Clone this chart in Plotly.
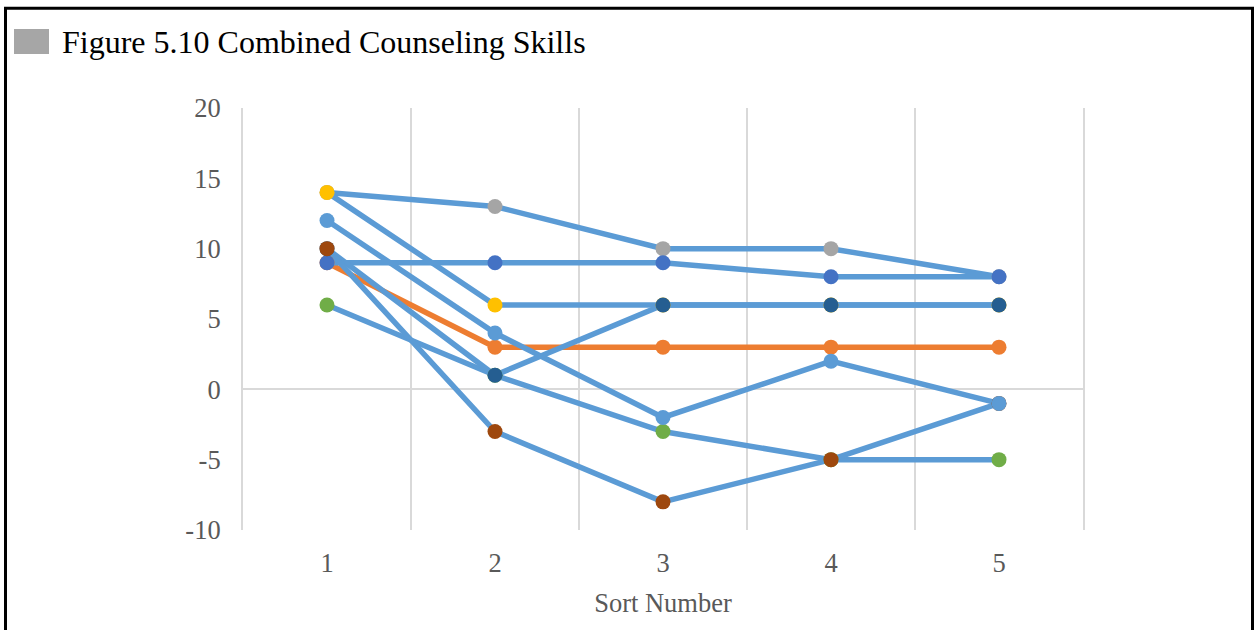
import plotly.graph_objects as go

# ---- data ----
sorts = ["1", "2", "3", "4", "5"]
s1 = [12, 4, -2, 2, -1]
s2 = [9, 3, 3, 3, 3]
s3 = [14, 13, 10, 10, 8]
s4 = [14, 6, 6, 6, 6]
s5 = [9, 9, 9, 8, 8]
s6 = [6, 1, -3, -5, -5]
s7 = [10, 1, 6, 6, 6]
s8 = [10, -3, -8, -5, -1]
y_ticks = [-10, -5, 0, 5, 10, 15, 20]
y_tick_text = ["-10", "-5", "0", "5", "10", "15", "20"]

series = [s1, s2, s3, s4, s5, s6, s7, s8]
marker_colors = ["#5B9BD5", "#ED7D31", "#A5A5A5", "#FFC000",
                 "#4472C4", "#70AD47", "#255E91", "#9E480E"]
line_colors = ["#5B9BD5", "#ED7D31"] + ["#5B9BD5"] * 6

W, H = 1254, 630
L, R, T, B = 243, 1083, 108, 530

fig = go.Figure()
# lines first (orange underneath)
line_order = [1, 0, 2, 3, 4, 5, 6, 7]
for i in line_order:
    fig.add_trace(go.Scatter(x=sorts, y=series[i], mode="lines",
                             line=dict(color=line_colors[i], width=5.5),
                             showlegend=False, hoverinfo="skip"))
# markers on top
marker_order = [1, 2, 3, 4, 5, 6, 7, 0]
for i in marker_order:
    fig.add_trace(go.Scatter(x=sorts, y=series[i], mode="markers",
                             marker=dict(color=marker_colors[i], size=15),
                             showlegend=False))

def px_x(p):
    return (p - L) / (R - L)

def px_y(p):
    return (B - p) / (B - T)

shapes = [
    dict(type="rect", xref="paper", yref="paper",
         x0=px_x(14), x1=px_x(49), y0=px_y(54), y1=px_y(29),
         fillcolor="#A6A6A6", line=dict(width=0)),
    dict(type="rect", xref="paper", yref="paper",
         x0=px_x(5.5), x1=px_x(1252.5), y0=px_y(660), y1=px_y(8.2),
         fillcolor="rgba(0,0,0,0)", line=dict(color="black", width=3)),
]

fig.update_layout(
    width=W, height=H,
    margin=dict(l=L, r=W - R, t=T, b=H - B),
    paper_bgcolor="white", plot_bgcolor="white",
    font=dict(family="Liberation Serif", color="#595959", size=26.5),
    title=dict(text="Figure 5.10 Combined Counseling Skills",
               xref="container", yref="container",
               x=62 / W, xanchor="left", y=1 - 42 / H,
               yanchor="middle",
               font=dict(family="Liberation Serif", size=32, color="black")),
    showlegend=False,
    shapes=shapes,
    xaxis=dict(type="category", range=[-0.5, 4.5], tickson="boundaries",
               showgrid=True, gridcolor="#D9D9D9", gridwidth=2,
               ticks="", showline=False, zeroline=False,
               ticklabelstandoff=14,
               title=dict(text="Sort Number", standoff=16,
                          font=dict(size=26.5, color="#595959"))),
    yaxis=dict(range=[-10, 20], tickvals=y_ticks, ticktext=y_tick_text,
               showgrid=False,
               zeroline=True, zerolinecolor="#D9D9D9", zerolinewidth=2,
               showline=True, linecolor="#D9D9D9", linewidth=2, mirror=True,
               ticks="", ticklabelstandoff=15),
)

fig.write_html(
    "out.html",
    config={"displayModeBar": False},
    post_script="document.body.style.margin='0px';"
                "document.body.style.overflow='hidden';",
)
